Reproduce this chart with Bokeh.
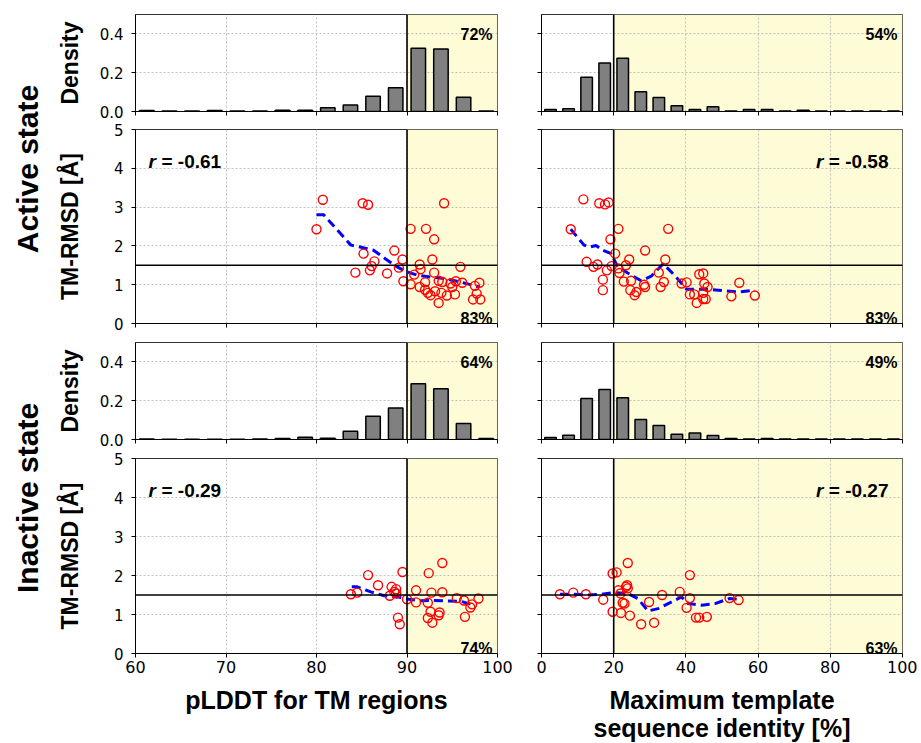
import numpy as np
from bokeh.plotting import figure
from bokeh.models import Span, BoxAnnotation, Label, FixedTicker, Range1d, PrintfTickFormatter
from bokeh.layouts import gridplot, column, row
from bokeh.embed import file_html
from bokeh.resources import INLINE

# ---------------- data ----------------
row_titles = ["Active state", "Inactive state"]
x_titles = ["pLDDT for TM regions", "Maximum template\nsequence identity [%]"]

plddt_range = [60, 100]
ident_range = [0, 100]
plddt_ticks = [60, 70, 80, 90, 100]
ident_ticks = [0, 20, 40, 60, 80, 100]
density_ticks = [0, 0.2, 0.4]
rmsd_ticks = [0, 1, 2, 3, 4, 5]
plddt_bin_width = 2.5
ident_bin_width = 5.0
plddt_cut = 90
ident_cut = 20
rmsd_cut = 1.5

active_plddt_density = [0.005, 0.002, 0.002, 0.005, 0.002, 0.002, 0.007, 0.007,
                        0.019, 0.033, 0.078, 0.122, 0.326, 0.322, 0.074, 0.002]
active_ident_density = [0.010, 0.014, 0.176, 0.250, 0.275, 0.102, 0.072, 0.029, 0.010, 0.024,
                        0.002, 0.010, 0.010, 0.003, 0.007, 0.003, 0.002, 0.002, 0.002, 0.002]
inactive_plddt_density = [0.003, 0.001, 0.001, 0.001, 0.001, 0.003, 0.005, 0.012,
                          0.007, 0.043, 0.120, 0.163, 0.288, 0.261, 0.082, 0.005]
inactive_ident_density = [0.010, 0.022, 0.211, 0.258, 0.215, 0.103, 0.072, 0.027, 0.034, 0.021,
                          0.005, 0.003, 0.005, 0.003, 0.003, 0.002, 0.002, 0.002, 0.002, 0.002]

hist_pct = {"active_plddt": "72%", "active_ident": "54%",
            "inactive_plddt": "64%", "inactive_ident": "49%"}
scatter_pct = {"active_plddt": "83%", "active_ident": "83%",
               "inactive_plddt": "74%", "inactive_ident": "63%"}
r_values = {"active_plddt": "-0.61", "active_ident": "-0.58",
            "inactive_plddt": "-0.29", "inactive_ident": "-0.27"}

active_plddt_x = [80.0, 80.7, 85.1, 85.7, 85.2, 86.4, 86.1, 85.9, 84.3, 87.8, 88.6, 89.5, 89.1, 89.6,
                  90.4, 92.1, 93.0, 94.1, 92.8, 91.4, 91.5, 93.0, 90.8, 90.4, 92.0, 91.4, 92.0, 92.3,
                  92.6, 93.1, 93.5, 93.9, 93.8, 93.5, 94.4, 95.3, 95.0, 95.9, 96.1, 95.4, 97.5, 98.0,
                  97.7, 97.3, 98.1, 94.8]
active_plddt_y = [2.43, 3.19, 3.10, 3.06, 1.80, 1.60, 1.48, 1.37, 1.31, 1.29, 1.88, 1.65, 1.44, 1.09,
                  2.44, 2.44, 2.17, 3.10, 1.65, 1.52, 1.40, 1.31, 1.26, 1.01, 1.06, 0.94, 0.87, 0.79,
                  0.73, 0.83, 1.10, 1.07, 0.79, 0.53, 0.72, 0.75, 0.94, 1.46, 1.05, 1.09, 0.97, 1.05,
                  0.77, 0.62, 0.62, 1.03]
active_plddt_trend_x = [80.0, 80.8, 83.8, 85.2, 86.3, 87.6, 88.9, 90.0, 91.2, 92.6, 94.1, 95.9, 98.0]
active_plddt_trend_y = [2.80, 2.80, 2.02, 1.95, 1.89, 1.67, 1.46, 1.33, 1.24, 1.20, 1.16, 1.07, 0.94]

active_ident_x = [11.6, 16.0, 17.6, 18.6, 8.1, 21.3, 19.1, 35.1, 20.4, 28.7, 24.3, 34.3, 12.5, 14.4,
                  15.5, 19.4, 18.1, 17.0, 17.0, 21.3, 21.6, 23.4, 22.8, 24.8, 24.6, 25.8, 26.3, 28.4,
                  28.7, 32.5, 33.9, 33.0, 38.8, 40.2, 41.1, 42.3, 43.0, 43.7, 44.8, 45.1, 46.0, 44.8,
                  45.5, 44.8, 52.6, 54.8, 59.1]
active_ident_y = [3.20, 3.10, 3.07, 3.12, 2.43, 2.44, 2.17, 2.44, 1.80, 1.88, 1.65, 1.65, 1.59, 1.46,
                  1.52, 1.48, 1.37, 1.13, 0.86, 1.42, 1.30, 1.50, 1.08, 1.10, 0.86, 0.73, 0.81, 1.00,
                  0.94, 1.31, 1.07, 0.94, 1.03, 1.06, 0.75, 0.75, 0.53, 1.27, 1.29, 1.03, 0.94, 0.79,
                  0.63, 0.63, 0.70, 1.05, 0.72]
active_ident_trend_x = [8.1, 11.8, 13.2, 15.1, 16.9, 19.3, 21.1, 23.9, 27.6, 30.4, 33.7, 36.9, 40.2,
                        45.3, 49.0, 54.6, 59.1]
active_ident_trend_y = [2.43, 2.02, 1.97, 2.01, 1.89, 1.80, 1.46, 1.30, 1.10, 1.22, 1.54, 1.24, 0.88,
                        0.88, 0.86, 0.81, 0.86]

inactive_plddt_x = [83.8, 84.5, 85.7, 86.8, 88.1, 88.3, 88.6, 88.8, 88.8, 89.5, 89.0, 89.2, 90.0, 91.0,
                    91.0, 92.4, 93.9, 92.7, 93.9, 92.3, 92.3, 92.6, 92.8, 93.5, 93.6, 95.5, 96.3, 96.4,
                    97.0, 97.2, 97.9]
inactive_plddt_y = [1.52, 1.56, 2.01, 1.75, 1.48, 1.71, 1.58, 1.65, 1.54, 2.09, 0.92, 0.75, 1.39, 1.62,
                    1.31, 2.06, 2.32, 1.56, 1.57, 1.30, 0.91, 1.07, 0.79, 0.98, 1.05, 1.42, 1.36, 0.94,
                    1.18, 1.26, 1.41]
inactive_plddt_trend_x = [83.9, 84.5, 86.0, 87.5, 89.0, 90.2, 91.5, 92.6, 94.1, 95.9, 97.4]
inactive_plddt_trend_y = [1.71, 1.71, 1.58, 1.48, 1.45, 1.39, 1.35, 1.36, 1.35, 1.34, 1.24]

inactive_ident_x = [5.1, 8.8, 12.3, 17.1, 19.7, 20.8, 23.9, 23.7, 23.9, 23.4, 21.3, 21.9, 19.7, 22.0,
                    22.5, 23.0, 24.5, 27.6, 29.8, 31.2, 33.4, 38.3, 41.1, 41.1, 40.2, 42.8, 43.7, 45.8,
                    52.1, 54.6]
inactive_ident_y = [1.52, 1.56, 1.52, 1.38, 2.05, 2.08, 2.32, 1.75, 1.67, 1.71, 1.62, 1.54, 1.07, 1.04,
                    1.30, 1.28, 0.97, 0.75, 1.32, 0.79, 1.50, 1.58, 2.01, 1.42, 1.17, 0.92, 0.92, 0.94,
                    1.42, 1.37]
inactive_ident_trend_x = [5.1, 9.0, 12.7, 16.5, 19.7, 23.9, 26.7, 29.5, 32.3, 35.1, 38.8, 40.6, 44.4,
                          48.1, 52.1, 54.6]
inactive_ident_trend_y = [1.52, 1.52, 1.50, 1.52, 1.56, 1.54, 1.41, 1.09, 1.15, 1.28, 1.45, 1.28, 1.24,
                          1.28, 1.41, 1.39]

# ---------------- styling ----------------
LAB_FONT = "Liberation Sans"
TICK_FONT = "DejaVu Sans"
YELLOW = "#fdfcd6"
FRAME_W = [362, 361]
HIST_H = 97
SCAT_H = [194, 195]


def style_axis(ax, ticks, show_labels, font_size, standoff):
    ax.axis_line_color = "black"
    ax.axis_line_width = 1
    if show_labels:
        ax.ticker = FixedTicker(ticks=ticks)
        ax.major_tick_out = 4
        ax.major_tick_in = 0
        ax.major_tick_line_color = "black"
        ax.minor_tick_out = 0
        ax.minor_tick_in = 0
        ax.major_label_text_font = TICK_FONT
        ax.major_label_text_font_size = font_size
        ax.major_label_text_color = "black"
        ax.major_label_standoff = standoff
    else:
        # tick marks without labels
        ax.ticker = FixedTicker(ticks=[], minor_ticks=ticks)
        ax.minor_tick_out = 4
        ax.minor_tick_in = 0
        ax.minor_tick_line_color = "black"
        ax.major_label_standoff = 0
    ax.axis_label_text_font = LAB_FONT
    ax.axis_label_text_font_style = "bold"
    ax.axis_label_text_color = "black"


def base_fig(col, is_hist, is_bottom, top_b, bot_b, frame_h):
    xr = plddt_range if col == 0 else ident_range
    xt = plddt_ticks if col == 0 else ident_ticks
    yt = density_ticks if is_hist else rmsd_ticks
    p = figure(output_backend="svg", toolbar_location=None,
               frame_width=FRAME_W[col], frame_height=frame_h,
               x_range=Range1d(*xr),
               y_range=Range1d(0, 0.5) if is_hist else Range1d(0, 5),
               min_border_left=90 if col == 0 else 27,
               min_border_right=17 if col == 0 else 15,
               min_border_top=top_b, min_border_bottom=bot_b)
    p.toolbar.logo = None
    p.background_fill_color = "white"
    p.border_fill_color = "white"
    p.outline_line_color = "#333333"
    p.outline_line_width = 1
    style_axis(p.xaxis[0], xt, is_bottom, "16px", 3)
    style_axis(p.yaxis[0], yt, col == 0, "15px", 8)
    if col == 0 and is_hist:
        p.yaxis.formatter = PrintfTickFormatter(format="%.1f")
    if is_bottom:
        p.xaxis.axis_label = x_titles[col]
        p.xaxis.axis_label_text_font_size = "25px"
        p.xaxis.axis_label_standoff = 10
        p.xaxis.axis_label_text_line_height = 1.0
    if col == 0:
        p.yaxis.axis_label = "Density" if is_hist else "TM-RMSD [Å]"
        p.yaxis.axis_label_text_font_size = "23px"
        p.yaxis.axis_label_standoff = 14 if is_hist else 28
    p.xgrid.ticker = FixedTicker(ticks=xt)
    p.ygrid.ticker = FixedTicker(ticks=yt)
    for g in (p.xgrid, p.ygrid):
        g.grid_line_color = "#b0b0b0"
        g.grid_line_dash = "2 2"
        g.grid_line_width = 0.8
    cut = plddt_cut if col == 0 else ident_cut
    p.add_layout(BoxAnnotation(left=cut, right=xr[1], fill_color=YELLOW, fill_alpha=1.0,
                               line_alpha=0, level="image"))
    p.add_layout(Span(location=cut, dimension="height", line_color="black", line_width=1.6))
    return p, xr


def hist_panel(col, density, pct, top_b, bot_b):
    p, xr = base_fig(col, True, False, top_b, bot_b, HIST_H)
    bw = plddt_bin_width if col == 0 else ident_bin_width
    centers = np.arange(xr[0], xr[1], bw) + bw / 2
    p.vbar(x=centers, top=density, width=bw * 0.64, bottom=0,
           fill_color="#808080", line_color="black", line_width=1.5)
    p.add_layout(Label(x=xr[1], y=0.5, x_offset=-5, y_offset=-20, text=pct,
                       text_align="right", text_baseline="alphabetic",
                       text_font=LAB_FONT, text_font_style="bold", text_font_size="16px",
                       text_color="black"))
    return p


def scatter_panel(col, xs, ys, tx, ty, pct, r, top_b, bot_b, frame_h, is_bottom):
    p, xr = base_fig(col, False, is_bottom, top_b, bot_b, frame_h)
    p.add_layout(Span(location=rmsd_cut, dimension="width", line_color="black", line_width=1.6))
    p.line(tx, ty, line_color="blue", line_width=3, line_dash="9 5")
    p.scatter(xs, ys, marker="circle", size=9, fill_color=None, line_color="red", line_width=1.4)
    p.add_layout(Label(x=xr[1], y=0, x_offset=-5, y_offset=5, text=pct,
                       text_align="right", text_baseline="alphabetic",
                       text_font=LAB_FONT, text_font_style="bold", text_font_size="16px",
                       text_color="black"))
    common = dict(y=5, y_offset=-32, text_baseline="alphabetic", text_font=LAB_FONT,
                  text_font_size="19px", text_color="black")
    if col == 0:
        p.add_layout(Label(x=xr[0], x_offset=13, text="r", text_align="left",
                           text_font_style="bold italic", **common))
        p.add_layout(Label(x=xr[0], x_offset=26, text="= " + r, text_align="left",
                           text_font_style="bold", **common))
    else:
        p.add_layout(Label(x=xr[1], x_offset=-14, text="= " + r, text_align="right",
                           text_font_style="bold", **common))
        p.add_layout(Label(x=xr[1], x_offset=-79, text="r", text_align="right",
                           text_font_style="bold italic", **common))
    return p


grid_rows = [
    [hist_panel(0, active_plddt_density, hist_pct["active_plddt"], 14, 9),
     hist_panel(1, active_ident_density, hist_pct["active_ident"], 14, 9)],
    [scatter_panel(0, active_plddt_x, active_plddt_y, active_plddt_trend_x, active_plddt_trend_y,
                   scatter_pct["active_plddt"], r_values["active_plddt"], 9, 10, SCAT_H[0], False),
     scatter_panel(1, active_ident_x, active_ident_y, active_ident_trend_x, active_ident_trend_y,
                   scatter_pct["active_ident"], r_values["active_ident"], 9, 10, SCAT_H[0], False)],
    [hist_panel(0, inactive_plddt_density, hist_pct["inactive_plddt"], 9, 10),
     hist_panel(1, inactive_ident_density, hist_pct["inactive_ident"], 9, 10)],
    [scatter_panel(0, inactive_plddt_x, inactive_plddt_y, inactive_plddt_trend_x,
                   inactive_plddt_trend_y, scatter_pct["inactive_plddt"],
                   r_values["inactive_plddt"], 9, 88, SCAT_H[1], True),
     scatter_panel(1, inactive_ident_x, inactive_ident_y, inactive_ident_trend_x,
                   inactive_ident_trend_y, scatter_pct["inactive_ident"],
                   r_values["inactive_ident"], 9, 88, SCAT_H[1], True)],
]

grid = gridplot(grid_rows, toolbar_location=None)


def title_fig(text, h, ypos):
    p = figure(output_backend="svg", toolbar_location=None, width=45, height=h,
               x_range=Range1d(0, 1), y_range=Range1d(0, 1), x_axis_type=None, y_axis_type=None,
               min_border=0)
    p.toolbar.logo = None
    p.outline_line_color = None
    p.xgrid.visible = False
    p.ygrid.visible = False
    p.add_layout(Label(x=0.6, y=ypos, text=text, angle=np.pi / 2, text_align="center",
                       text_baseline="middle", text_font=LAB_FONT, text_font_style="bold",
                       text_font_size="30px", text_color="black"))
    return p


labels_col = column(title_fig(row_titles[0], 333, 0.494),
                    title_fig(row_titles[1], 408, 0.597), spacing=0)

layout = row(labels_col, grid, spacing=0)

open("out.html", "w").write(file_html(layout, INLINE, "plot"))
